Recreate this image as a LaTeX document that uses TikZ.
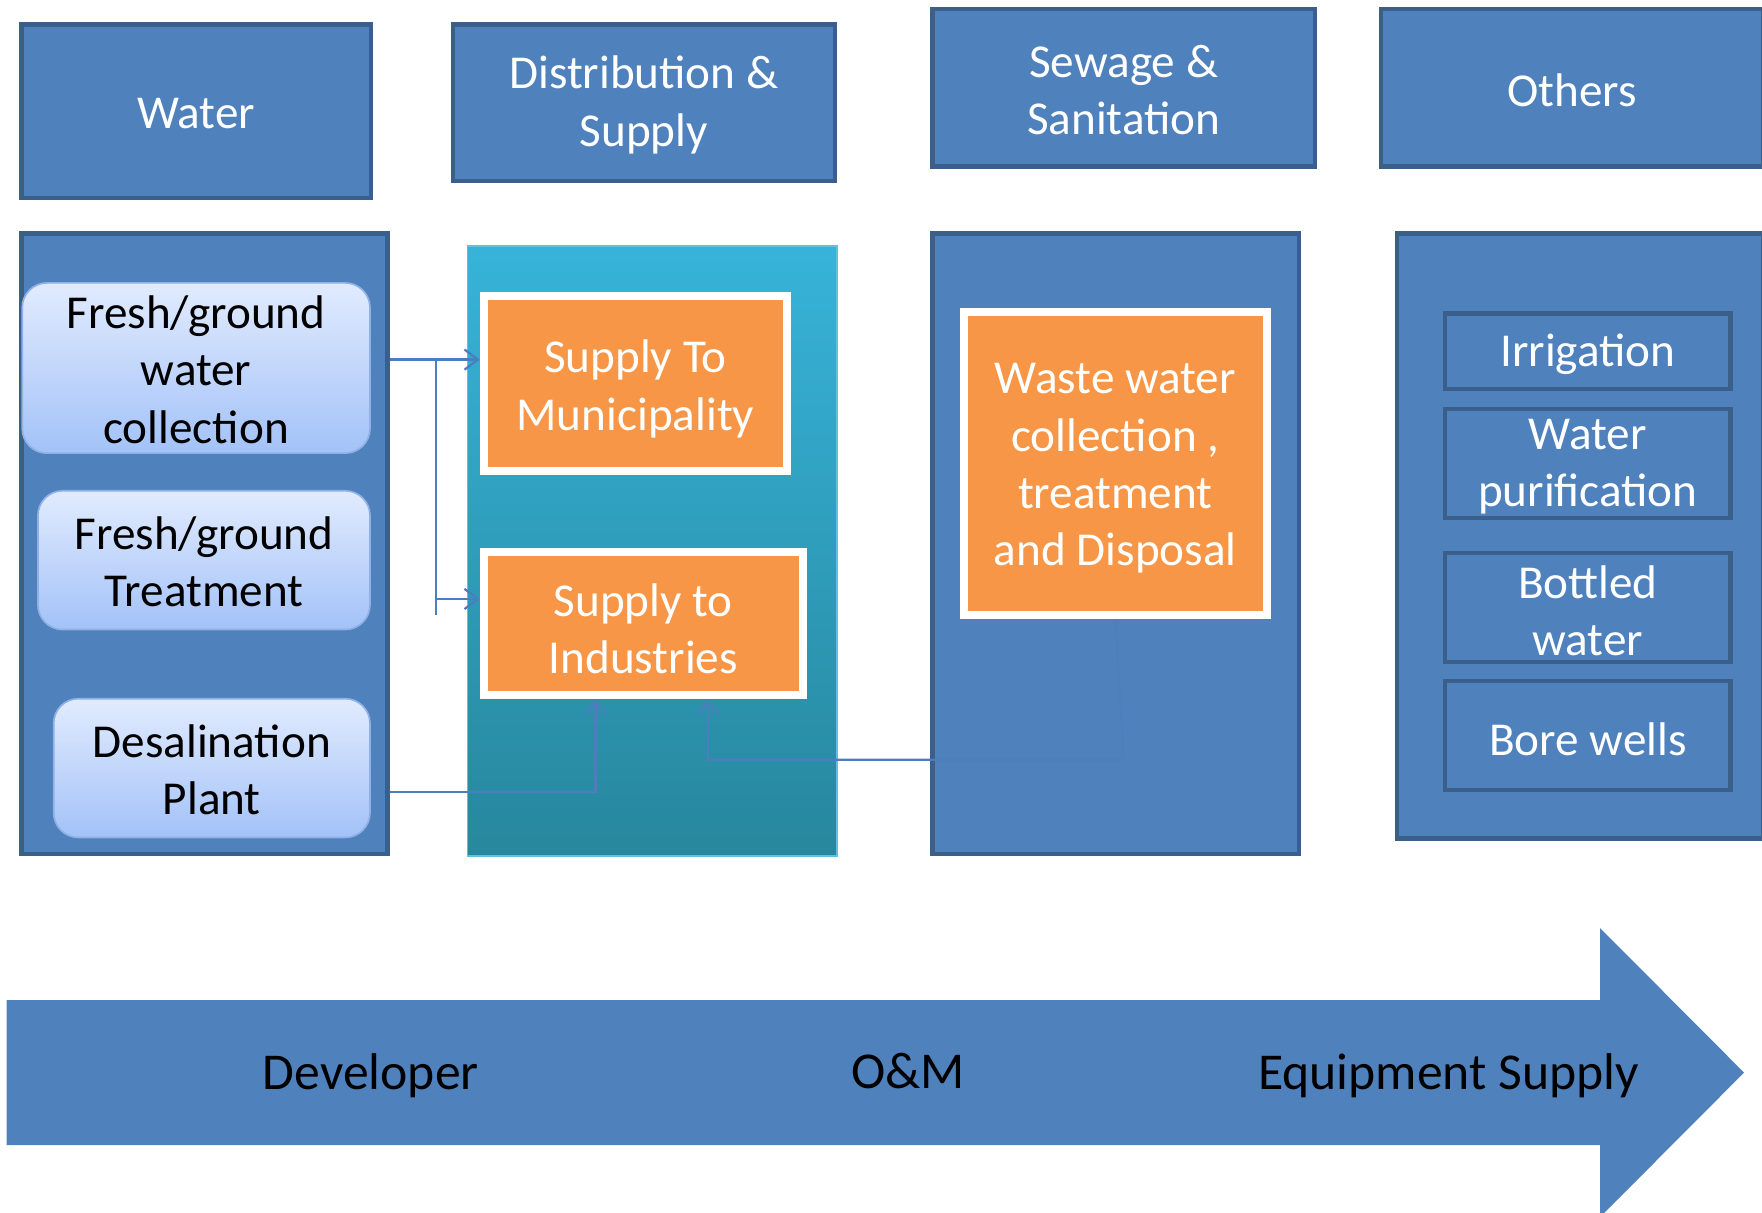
\documentclass[tikz,border=0pt]{standalone}
\usepackage{fontspec}
\setmainfont{Carlito}
\usetikzlibrary{arrows.meta,calc}
\definecolor{pblue}{HTML}{4F81BD}
\definecolor{pbdr}{HTML}{3A5F8B}
\definecolor{porange}{HTML}{F79646}
\definecolor{tealtop}{HTML}{37B3D9}
\definecolor{tealbot}{HTML}{27879D}
\definecolor{tealbdr}{HTML}{5CC2E0}
\definecolor{rtop}{HTML}{E1EBFE}
\definecolor{rbot}{HTML}{A3C2F8}
\definecolor{rbdr}{HTML}{8FB1E6}
\definecolor{connc}{HTML}{4A7EBF}
\begin{document}
\begin{tikzpicture}[x=1pt,y=-1pt,
  txt/.style={font=\fontsize{42}{51}\selectfont, align=center, inner sep=0pt},
  hdr/.style={draw=pbdr, line width=4pt, fill=pblue, inner sep=0pt},
  colbox/.style={draw=pbdr, line width=4pt, fill=pblue, inner sep=0pt},
  distcol/.style={draw=tealbdr, line width=1.5pt, top color=tealtop, bottom color=tealbot, inner sep=0pt},
  rbox/.style={draw=rbdr, line width=1.5pt, rounded corners=22pt, top color=rtop, bottom color=rbot, inner sep=0pt},
  obox/.style={draw=white, line width=7pt, fill=porange, inner sep=0pt},
  ibox/.style={hdr},
  htext/.style={label={[txt,text=white,yshift=-2pt]center:{#1}}},
  otext/.style={label={[txt,text=white,yshift=-4.5pt]center:{#1}}},
  itext/.style={label={[txt,text=white,yshift=-3pt]center:{#1}}},
  btext/.style={label={[txt,text=black,yshift=-1.5pt]center:{#1}}},
  link/.style={draw=connc, line width=2pt},
  arr/.style={-{Straight Barb[length=12pt,width=18pt]}},
  biglbl/.style={font=\fontsize{46}{55}\selectfont, inner sep=0pt, text=black},
  ]
\useasboundingbox (0,0) rectangle (1568,1078.6);
\clip (0,0) rectangle (1568,1078.6);

% headers
\node[hdr, minimum width=311, minimum height=154, htext={Water}] (hWater) at (174.5,99) {};
\node[hdr, minimum width=340, minimum height=139, htext={Distribution \&\\Supply}] (hDist) at (573,91.5) {};
\node[hdr, minimum width=340, minimum height=140, htext={Sewage \&\\Sanitation}] (hSew) at (1000,78) {};
\node[hdr, minimum width=340, minimum height=140, htext={Others}] (hOth) at (1399,78) {};

% columns
\node[colbox, minimum width=326, minimum height=552] (cWater) at (182,484) {};
\node[distcol, minimum width=329, minimum height=543] (cDist) at (580.5,490.5) {};
\node[colbox, minimum width=326, minimum height=552] (cSew) at (993,484) {};
\node[colbox, minimum width=326, minimum height=538] (cOth) at (1406,477) {};

% water sources
\node[rbox, minimum width=309.5, minimum height=151.5, btext={Fresh/ground\\water\\collection}] (bColl) at (174.5,327.5) {};
\node[rbox, minimum width=295.5, minimum height=123.5, btext={Fresh/ground\\Treatment}] (bTreat) at (181.5,498.5) {};
\node[rbox, minimum width=281.5, minimum height=123.5, btext={Desalination\\Plant}] (bDesal) at (188.5,683.5) {};

% orange boxes
\node[obox, minimum width=270, minimum height=156, otext={Supply To\\Municipality}] (oMun) at (565.5,341.5) {};
\node[obox, minimum width=284, minimum height=127, otext={Supply to\\Industries}] (oInd) at (572.5,555) {};
\node[obox, minimum width=270, minimum height=270, otext={Waste water\\collection ,\\treatment\\and Disposal}] (oWaste) at (992.5,412.5) {};

% others
\node[ibox, minimum width=254, minimum height=67, itext={Irrigation}] (iIrr) at (1413,312.5) {};
\node[ibox, minimum width=254, minimum height=97, itext={Water\\purification}] (iPur) at (1413,412.5) {};
\node[ibox, minimum width=254, minimum height=97, itext={Bottled\\water}] (iBot) at (1413,540.5) {};
\node[ibox, minimum width=254, minimum height=97, itext={Bore wells}] (iBore) at (1413,654.5) {};

% connectors
\coordinate (ja) at (388,320);
\coordinate (jb) at (388,547);
\coordinate (jc) at (388,533);
\draw[link,arr] (cWater.east |- ja) -- (oMun.west |- ja);
\draw[link] (ja) -- (jb);
\draw[link,arr] (jc) -- (oInd.west |- jc);
\coordinate (dk) at (530,705);
\draw[link,arr] (cWater.east |- dk) -| (dk |- oInd.south);
\coordinate (wk) at (1000,676);
\coordinate (wx) at (630,676);
\draw[link,arr] (oWaste.south) -- (wk) -- (wx) -- (wx |- oInd.south);
\begin{scope}
  \clip ($(cSew.west |- oWaste.south)+(4,0)$) rectangle ($(cSew.south east)+(-4,-4)$);
  \fill[pblue, opacity=0.6] ($(cSew.west |- oWaste.south)+(4,0)$) rectangle ($(cSew.south east)+(-4,-4)$);
\end{scope}

% bottom arrow
\fill[pblue] (6,890) -- (1424,890) -- (1424,826) -- (1552,954.5) -- (1424,1083) -- (1424,1019) -- (6,1019) -- cycle;
\node[biglbl] (lDev) at (330,957) {Developer};
\node[biglbl] (lOM) at (808,953) {O\&M};
\node[biglbl] (lEq) at (1289,957) {Equipment Supply};
\end{tikzpicture}
\end{document}
